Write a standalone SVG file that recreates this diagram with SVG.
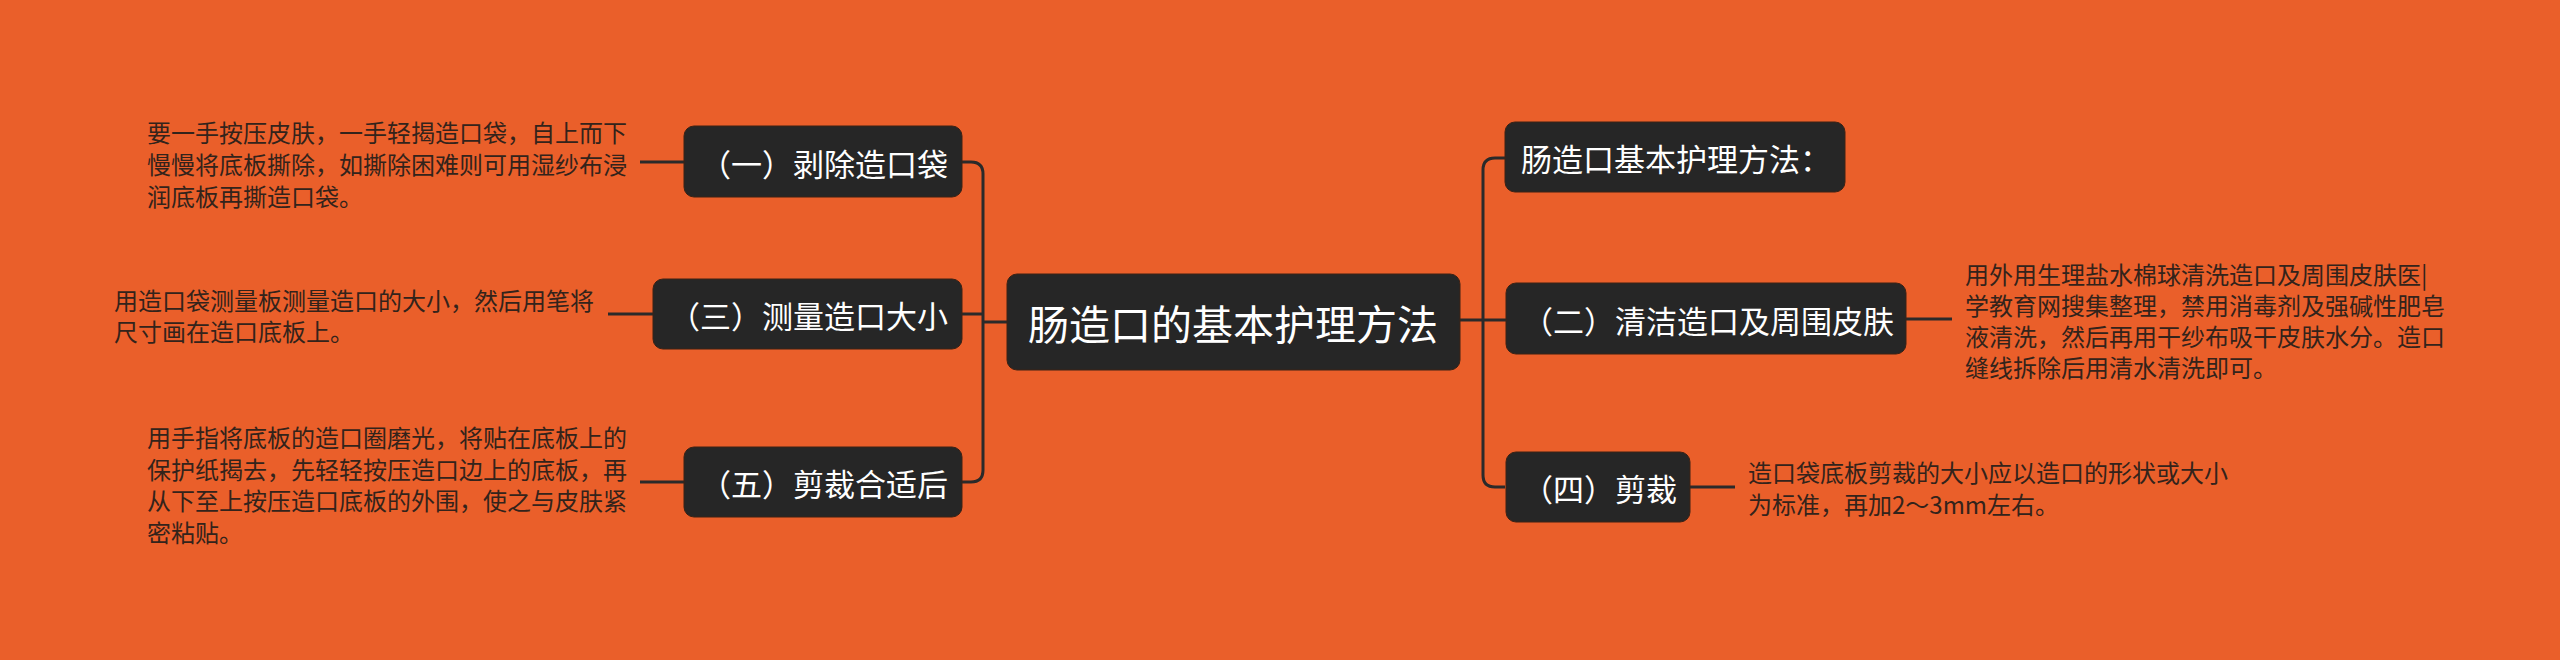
<svg xmlns="http://www.w3.org/2000/svg" width="2560" height="660" viewBox="0 0 2560 660">
<style>
.box{fill:#262626;stroke:#3c2215;stroke-width:1}
.lbl{font-family:"Noto Sans CJK SC","Noto Sans",sans-serif;fill:#ffffff;font-size:31px;dominant-baseline:central}
.ctr{font-family:"Noto Sans CJK SC","Noto Sans",sans-serif;fill:#ffffff;font-size:41px;dominant-baseline:central;text-anchor:middle}
.desc{font-family:"Noto Sans CJK SC","Noto Sans",sans-serif;fill:#33231b;font-size:24px;dominant-baseline:central}
.ln{fill:none;stroke:#2a2a2a;stroke-width:3;stroke-linecap:butt}
</style>
<rect x="0" y="0" width="2560" height="660" fill="#EA5F2A"/>
<g id="connectors">
<path class="ln" d="M962 162 H971 Q983 162 983 174 V470 Q983 482 971 482 H962"/>
<path class="ln" d="M962 314 H983"/>
<path class="ln" d="M983 322 H1007"/>
<path class="ln" d="M1505 158 H1495 Q1483 158 1483 170 V475 Q1483 487 1495 487 H1505"/>
<path class="ln" d="M1460 320 H1506"/>
<path class="ln" d="M640 162 H684"/>
<path class="ln" d="M608 314 H653"/>
<path class="ln" d="M640 482 H684"/>
<path class="ln" d="M1906 319 H1952"/>
<path class="ln" d="M1690 487 H1735"/>
</g>
<g id="center">
<rect class="box" x="1007" y="274" width="453" height="96" rx="10"/>
<text class="ctr" x="1233" y="322">肠造口的基本护理方法</text>
</g>
<g id="n1">
<rect class="box" x="684" y="126" width="278" height="71" rx="10"/>
<text class="lbl" x="700" y="162">（一）剥除造口袋</text>
</g>
<g id="n1-desc">
<text class="desc" x="147" y="131">要一手按压皮肤，一手轻揭造口袋，自上而下</text>
<text class="desc" x="147" y="163">慢慢将底板撕除，如撕除困难则可用湿纱布浸</text>
<text class="desc" x="147" y="195">润底板再撕造口袋。</text>
</g>
<g id="n3">
<rect class="box" x="653" y="279" width="309" height="70" rx="10"/>
<text class="lbl" x="669" y="314">（三）测量造口大小</text>
</g>
<g id="n3-desc">
<text class="desc" x="114" y="299">用造口袋测量板测量造口的大小，然后用笔将</text>
<text class="desc" x="114" y="330">尺寸画在造口底板上。</text>
</g>
<g id="n5">
<rect class="box" x="684" y="447" width="278" height="70" rx="10"/>
<text class="lbl" x="700" y="482">（五）剪裁合适后</text>
</g>
<g id="n5-desc">
<text class="desc" x="147" y="436">用手指将底板的造口圈磨光，将贴在底板上的</text>
<text class="desc" x="147" y="468">保护纸揭去，先轻轻按压造口边上的底板，再</text>
<text class="desc" x="147" y="499">从下至上按压造口底板的外围，使之与皮肤紧</text>
<text class="desc" x="147" y="531">密粘贴。</text>
</g>
<g id="r0">
<rect class="box" x="1505" y="122" width="340" height="70" rx="10"/>
<text class="lbl" x="1521" y="157">肠造口基本护理方法：</text>
</g>
<g id="n2">
<rect class="box" x="1506" y="283" width="400" height="71" rx="10"/>
<text class="lbl" x="1522" y="319">（二）清洁造口及周围皮肤</text>
</g>
<g id="n2-desc">
<text class="desc" x="1965" y="273">用外用生理盐水棉球清洗造口及周围皮肤医|</text>
<text class="desc" x="1965" y="304">学教育网搜集整理，禁用消毒剂及强碱性肥皂</text>
<text class="desc" x="1965" y="335">液清洗，然后再用干纱布吸干皮肤水分。造口</text>
<text class="desc" x="1965" y="366">缝线拆除后用清水清洗即可。</text>
</g>
<g id="n4">
<rect class="box" x="1506" y="452" width="184" height="70" rx="10"/>
<text class="lbl" x="1522" y="487">（四）剪裁</text>
</g>
<g id="n4-desc">
<text class="desc" x="1748" y="471">造口袋底板剪裁的大小应以造口的形状或大小</text>
<text class="desc" x="1748" y="503">为标准，再加2～3mm左右。</text>
</g>
</svg>
